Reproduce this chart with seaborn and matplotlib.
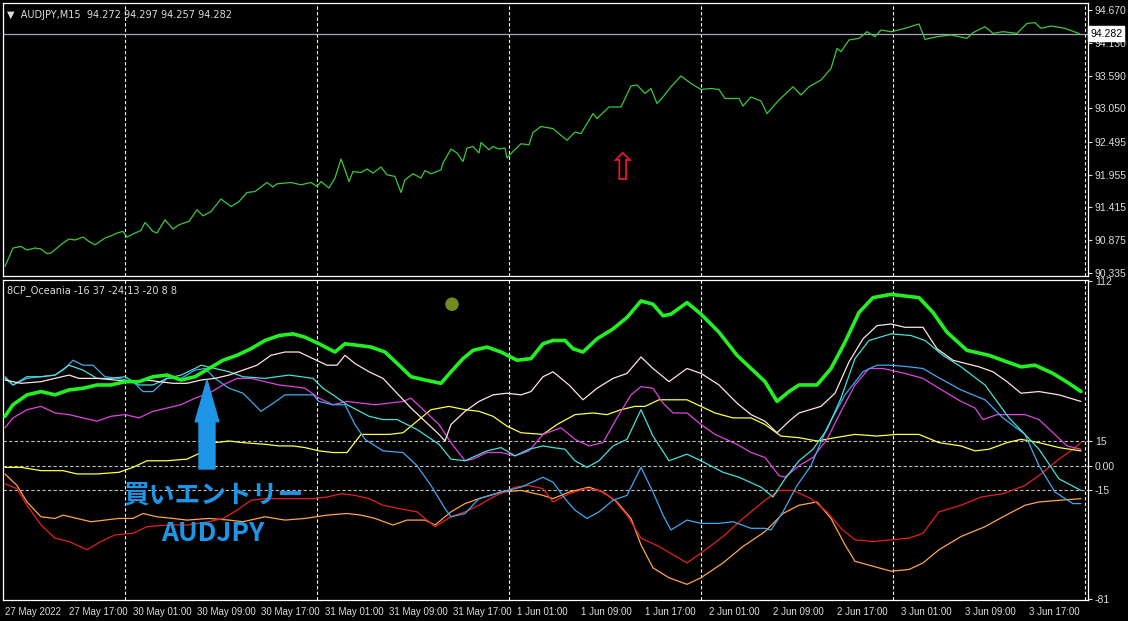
import matplotlib
matplotlib.use('Agg')
import matplotlib.pyplot as plt
import seaborn as sns

sns.set_style('dark', {'axes.facecolor': 'black', 'figure.facecolor': 'black'})
plt.rcParams['font.family'] = ['DejaVu Sans', 'Noto Sans CJK JP']

# --- AUDJPY M15 close (bar index, price) ---
price_bar = [0, 4, 8, 11, 15, 18, 21, 23, 26, 29, 32, 35, 39, 42, 45, 50, 53, 56, 59, 61,
             65, 68, 70, 74, 76, 80, 84, 87, 92, 96, 99, 103, 108, 113, 117, 121, 125, 131, 134, 136,
             143, 148, 153, 156, 158, 162, 165, 168, 170, 172, 174, 178, 181, 184, 188, 191, 195, 198, 200, 204,
             208, 210, 213, 218, 219, 223, 226, 229, 231, 234, 237, 238, 242, 244, 247, 250, 251, 254, 258, 262,
             264, 268, 274, 281, 285, 288, 294, 296, 302, 308, 313, 316, 320, 323, 326, 329, 333, 338, 343, 348,
             353, 357, 360, 367, 369, 373, 378, 381, 387, 394, 398, 402, 408, 413, 416, 418, 422, 427, 431, 435,
             438, 443, 450, 457, 460, 466, 473, 481, 484, 490, 494, 499, 506, 511, 515, 518, 523, 530, 537]
price = [90.444, 90.747, 90.773, 90.714, 90.747, 90.731, 90.653, 90.665, 90.747, 90.829,
         90.895, 90.879, 90.928, 90.856, 90.800, 90.912, 90.948, 90.994, 91.021, 90.928,
         90.994, 91.037, 91.169, 91.021, 90.994, 91.212, 91.060, 91.130, 91.186, 91.377,
         91.278, 91.349, 91.555, 91.431, 91.513, 91.662, 91.678, 91.827, 91.753, 91.805,
         91.827, 91.789, 91.827, 91.761, 91.843, 91.736, 91.901, 92.214, 92.036, 91.843,
         92.008, 91.991, 92.049, 91.983, 92.082, 91.954, 91.926, 91.662, 91.871, 91.970,
         91.901, 92.024, 91.970, 92.036, 92.148, 92.379, 92.313, 92.173, 92.395, 92.420,
         92.313, 92.486, 92.366, 92.420, 92.379, 92.395, 92.231, 92.338, 92.465, 92.448,
         92.651, 92.750, 92.715, 92.522, 92.659, 92.633, 92.962, 92.880, 93.071, 93.071,
         93.417, 93.434, 93.294, 93.376, 93.129, 93.236, 93.404, 93.582, 93.459, 93.360,
         93.376, 93.360, 93.211, 93.211, 93.088, 93.236, 93.170, 92.962, 93.187, 93.404,
         93.269, 93.404, 93.516, 93.706, 94.037, 93.981, 94.176, 94.202, 94.312, 94.230,
         94.340, 94.312, 94.367, 94.439, 94.185, 94.230, 94.258, 94.202, 94.296, 94.395,
         94.284, 94.312, 94.284, 94.449, 94.461, 94.367, 94.406, 94.367, 94.282]
last_price = 94.282

# --- 8CP_Oceania oscillator lines (bar index, value) ---
green_bar = [0, 4, 11, 18, 25, 32, 39, 46, 53, 60, 67, 74, 81, 88, 95, 102, 109, 116, 123, 130,
             137, 144, 150, 157, 165, 170, 177, 183, 190, 197, 203, 210, 218, 223, 229, 234, 241, 248, 256, 263,
             269, 274, 280, 284, 289, 296, 304, 311, 318, 324, 329, 333, 341, 348, 357, 366, 373, 380, 386, 392,
             397, 406, 413, 420, 427, 434, 443, 450, 457, 464, 471, 481, 492, 501, 508, 515, 524, 532, 538]
green = [30, 37, 43, 45, 43, 46, 47, 49, 49, 51, 51, 54, 55, 52, 54, 59, 64, 67, 71, 76,
         79, 80, 78, 74, 69, 74, 73, 72, 69, 61, 54, 52, 50, 57, 65, 70, 72, 69, 64, 65,
         74, 76, 76, 71, 69, 77, 83, 90, 100, 98, 91, 92, 99, 92, 81, 67, 59, 51, 39, 45,
         49, 49, 59, 75, 93, 102, 104, 103, 102, 93, 81, 70, 67, 63, 60, 61, 56, 50, 45]

white_bar = [0, 8, 18, 25, 32, 37, 46, 55, 64, 71, 77, 84, 91, 98, 105, 112, 119, 126, 133, 140,
             147, 154, 161, 166, 170, 175, 182, 189, 196, 203, 210, 217, 220, 223, 230, 237, 244, 251, 258, 263,
             269, 274, 282, 289, 296, 304, 311, 318, 324, 332, 341, 348, 357, 366, 373, 380, 386, 392, 397, 408,
             415, 422, 429, 436, 443, 450, 459, 466, 474, 487, 494, 501, 508, 517, 527, 538]
white = [52, 50, 51, 53, 55, 53, 53, 52, 51, 52, 51, 50, 50, 52, 53, 55, 58, 61, 67, 69,
         69, 65, 61, 61, 67, 62, 57, 53, 44, 35, 27, 19, 15, 25, 33, 39, 43, 44, 43, 45,
         54, 57, 49, 40, 47, 53, 56, 66, 59, 51, 59, 56, 49, 38, 31, 27, 20, 27, 32, 36,
         44, 63, 77, 85, 86, 84, 84, 71, 64, 60, 57, 51, 44, 45, 43, 39]

turq_bar = [0, 4, 11, 18, 25, 32, 39, 46, 53, 60, 67, 74, 81, 88, 95, 98, 105, 112, 119, 130,
            142, 154, 159, 164, 171, 182, 189, 196, 206, 217, 223, 230, 241, 248, 255, 262, 269, 274, 280, 285,
            291, 297, 304, 311, 318, 324, 332, 341, 348, 359, 367, 378, 384, 390, 397, 404, 411, 418, 425, 432,
            443, 453, 460, 469, 478, 490, 496, 502, 510, 517, 527, 538]
turq = [54, 49, 54, 54, 55, 61, 58, 53, 53, 54, 49, 49, 53, 55, 59, 61, 59, 57, 54, 53,
        55, 53, 47, 43, 37, 30, 28, 28, 22, 13, 4, 3, 9, 11, 6, 10, 12, 11, 10, 3,
        -1, 3, 12, 16, 34, 18, 3, 7, 3, -4, -7, -13, -19, -8, 3, 10, 22, 41, 65, 76,
        80, 79, 76, 67, 60, 49, 39, 29, 19, 10, -8, -15]

sky_bar = [0, 4, 11, 18, 25, 30, 34, 39, 44, 50, 57, 64, 69, 74, 81, 88, 95, 100, 105, 112,
           119, 124, 128, 133, 140, 149, 154, 157, 164, 170, 175, 180, 189, 199, 206, 213, 220, 223, 230, 237,
           248, 258, 269, 274, 280, 285, 291, 297, 304, 311, 318, 324, 329, 333, 341, 348, 357, 364, 373, 380,
           383, 389, 396, 403, 411, 420, 429, 436, 443, 452, 459, 466, 478, 490, 499, 510, 517, 525, 534, 538]
sky = [53, 49, 53, 54, 55, 59, 64, 61, 61, 54, 53, 51, 45, 45, 53, 53, 58, 59, 53, 47,
       44, 38, 33, 37, 43, 43, 43, 39, 37, 37, 25, 16, 9, 8, 0, -12, -26, -31, -29, -20,
       -16, -13, -7, -10, -20, -27, -32, -28, -21, -18, -1, -16, -30, -39, -33, -35, -35, -34, -38, -38,
       -39, -28, -12, 0, 23, 43, 57, 61, 61, 60, 59, 54, 46, 40, 29, 19, 0, -16, -23, -23]

mag_bar = [0, 4, 11, 18, 25, 32, 39, 46, 53, 60, 67, 74, 81, 88, 95, 102, 109, 116, 123, 130,
           137, 144, 150, 157, 164, 171, 178, 185, 192, 199, 203, 210, 217, 223, 230, 234, 241, 248, 255, 262,
           269, 278, 285, 292, 299, 306, 313, 318, 324, 329, 334, 341, 348, 355, 366, 373, 380, 387, 390, 397,
           404, 411, 418, 425, 432, 439, 450, 459, 467, 478, 485, 489, 496, 504, 510, 517, 524, 531, 538]
mag = [23, 29, 34, 36, 32, 31, 29, 27, 30, 31, 29, 33, 35, 37, 41, 44, 49, 53, 53, 51,
       49, 48, 47, 41, 37, 39, 38, 37, 38, 39, 41, 33, 25, 14, 3, 4, 8, 8, 6, 9,
       19, 23, 16, 12, 14, 29, 43, 48, 47, 38, 32, 32, 25, 19, 13, 8, 5, -6, -7, 0,
       5, 16, 33, 49, 59, 59, 56, 53, 47, 39, 35, 28, 31, 31, 31, 28, 20, 12, 10]

yel_bar = [0, 8, 18, 29, 36, 46, 57, 64, 71, 81, 91, 98, 105, 112, 119, 130, 137, 144, 150, 157,
           164, 171, 178, 185, 192, 199, 206, 213, 222, 230, 237, 244, 251, 258, 269, 276, 285, 294, 301, 308,
           315, 320, 327, 334, 341, 348, 355, 364, 373, 380, 388, 397, 406, 415, 425, 436, 446, 457, 467, 478,
           485, 492, 501, 508, 517, 527, 538]
yel = [-1, -1, -3, -3, -5, -5, -4, -1, 3, 3, 4, 8, 14, 15, 14, 13, 12, 12, 11, 9,
       8, 8, 19, 19, 19, 20, 27, 34, 36, 34, 33, 30, 24, 20, 19, 25, 31, 32, 31, 34,
       36, 36, 40, 40, 40, 36, 32, 29, 29, 25, 18, 17, 15, 17, 19, 18, 19, 19, 14, 12,
       9, 10, 14, 16, 14, 11, 9]

red_bar = [0, 6, 11, 18, 25, 32, 41, 48, 55, 64, 71, 81, 91, 102, 109, 116, 123, 130, 137, 147,
           154, 161, 168, 175, 182, 189, 197, 206, 215, 223, 230, 237, 244, 255, 262, 269, 274, 282, 290, 297,
           304, 311, 318, 327, 334, 341, 348, 359, 369, 380, 387, 394, 403, 411, 418, 425, 434, 443, 452, 459,
           467, 478, 488, 499, 510, 518, 527, 534, 538]
red = [-11, -14, -24, -36, -44, -46, -51, -46, -42, -41, -37, -36, -36, -34, -32, -27, -21, -20, -20, -20,
       -20, -19, -17, -18, -20, -24, -26, -28, -37, -31, -28, -24, -19, -13, -12, -14, -22, -17, -14, -15,
       -20, -30, -44, -49, -54, -59, -53, -43, -32, -21, -15, -15, -20, -28, -38, -45, -46, -45, -44, -41,
       -28, -24, -19, -17, -12, -5, 4, 10, 14]

org_bar = [0, 6, 11, 18, 25, 29, 36, 43, 50, 57, 64, 69, 76, 84, 91, 102, 112, 119, 130, 140,
           150, 161, 171, 178, 185, 194, 201, 210, 215, 223, 230, 237, 248, 258, 269, 274, 282, 292, 299, 306,
           313, 318, 324, 332, 341, 348, 359, 369, 380, 389, 397, 406, 413, 420, 425, 434, 443, 452, 459, 467,
           478, 490, 499, 510, 517, 527, 538]
org = [-5, -12, -22, -31, -32, -30, -32, -34, -33, -32, -32, -29, -31, -32, -33, -32, -33, -34, -31, -33,
       -32, -30, -29, -30, -32, -36, -33, -33, -36, -28, -23, -20, -16, -15, -18, -20, -16, -13, -16, -22,
       -32, -48, -62, -68, -72, -68, -59, -49, -40, -29, -24, -22, -32, -48, -58, -61, -64, -63, -59, -51,
       -43, -37, -31, -24, -22, -21, -20]

osc_levels = [15, 0, -15]

# --- axes labels ---
time_labels = ['27 May 2022', '27 May 17:00', '30 May 01:00', '30 May 09:00', '30 May 17:00',
               '31 May 01:00', '31 May 09:00', '31 May 17:00', '1 Jun 01:00', '1 Jun 09:00',
               '1 Jun 17:00', '2 Jun 01:00', '2 Jun 09:00', '2 Jun 17:00', '3 Jun 01:00',
               '3 Jun 09:00', '3 Jun 17:00']
time_ticks = [32 * i for i in range(len(time_labels))]
day_starts = [60, 156, 252, 348, 444, 540]
price_ticks = [94.670, 94.130, 93.590, 93.050, 92.495, 91.955, 91.415, 90.875, 90.335]
osc_ticks = [112, 15, 0, -15, -81]
osc_tick_labels = ['112', '15', '0.00', '-15', '-81']

# annotations
entry_bar = 101
entry_tip, entry_base = 52, -2
signal_bar, signal_price = 308.5, 92.03
dot_bar, dot_val = [223.5], [98]

W, H = 1128, 621
fig = plt.figure(figsize=(W / 100, H / 100), dpi=100)
fig.patch.set_facecolor('black')
ax1 = fig.add_axes([3 / W, (H - 276) / H, 1085 / W, 273 / H])
ax2 = fig.add_axes([3 / W, (H - 600) / H, 1085 / W, 320 / H])

txt = '#dcdcdc'
lab_font = 'Liberation Sans'
for ax in (ax1, ax2):
    ax.set_facecolor('black')
    ax.set_xlim(-1, 541.5)
    for s in ax.spines.values():
        s.set_color('white')
        s.set_linewidth(0.9)
    for d in day_starts:
        ax.axvline(d, color='white', lw=0.8, ls=(0, (3, 2)), zorder=1)
    ax.yaxis.tick_right()
    ax.tick_params(axis='y', colors=txt, labelsize=7.5, length=3, width=0.8, pad=2, direction='out')

# top panel: price
sns.lineplot(x=price_bar, y=price, ax=ax1, color='#3cc83c', lw=0.9, estimator=None, zorder=3)
ax1.axhline(last_price, color='#a8a8b8', lw=0.9, zorder=2)
ax1.set_ylim(90.286, 94.785)
ax1.set_yticks(price_ticks)
ax1.set_yticklabels([f'{p:.3f}' for p in price_ticks], family=lab_font)
ax1.set_xticks([])
ax1.set_xlabel('')
ax1.set_ylabel('')
ax1.text(1.002, last_price, f'{last_price:.3f}', transform=ax1.get_yaxis_transform(),
         ha='left', va='center', fontsize=7.5, family=lab_font, color='black', zorder=10, clip_on=False,
         bbox=dict(boxstyle='square,pad=0.2', fc='white', ec='white'))
ax1.text(0.004, 0.975, '▼  AUDJPY,M15  94.272 94.297 94.257 94.282', transform=ax1.transAxes,
         ha='left', va='top', fontsize=7, color=txt)
ax1.text(signal_bar, signal_price, '⇧', color='#e4142c', fontsize=27, ha='center', va='center')

# bottom panel: oscillator
series = [(org_bar, org, '#ffa548', 0.9), (red_bar, red, '#e42020', 0.9),
          (yel_bar, yel, '#ffff44', 0.9), (mag_bar, mag, '#e044e0', 0.9),
          (sky_bar, sky, '#3fa9f0', 0.9), (turq_bar, turq, '#48e0d8', 0.9),
          (white_bar, white, '#ffe2e2', 0.9), (green_bar, green, '#22f022', 2.6)]
for xs, ys, c, lw in series:
    sns.lineplot(x=xs, y=ys, ax=ax2, color=c, lw=lw, estimator=None, zorder=3)
for lv in osc_levels:
    ax2.axhline(lv, color='#bdbdbd', lw=0.8, ls=(0, (3, 2)), zorder=1)
sns.scatterplot(x=dot_bar, y=dot_val, ax=ax2, color='#6f8c1c', s=95, edgecolor='none', zorder=4)
ax2.set_ylim(-81.5, 112.7)
ax2.set_yticks(osc_ticks)
ax2.set_yticklabels(osc_tick_labels, family=lab_font)
ax2.set_xticks(time_ticks)
ax2.set_xticklabels(time_labels, ha='left', family=lab_font)
ax2.tick_params(axis='x', colors=txt, labelsize=7, length=3, width=0.8, pad=2)
ax2.set_xlabel('')
ax2.set_ylabel('')
ax2.text(0.004, 0.985, '8CP_Oceania -16 37 -24 13 -20 8 8', transform=ax2.transAxes,
         ha='left', va='top', fontsize=7, color=txt)

blue = '#1e96e8'
ax2.annotate('', xy=(entry_bar, entry_tip), xytext=(entry_bar, entry_base),
             arrowprops=dict(arrowstyle='simple,head_length=30,head_width=17,tail_width=11.5',
                             mutation_scale=1, color=blue, shrinkA=0, shrinkB=0), zorder=6)
ax2.text(entry_bar + 3, -18, '買いエントリー', color=blue, fontsize=18.5, fontweight='bold',
         family=['Noto Sans CJK JP', 'DejaVu Sans'], ha='center', va='center', zorder=6)
ax2.text(entry_bar + 3, -41, 'AUDJPY', color=blue, fontsize=19, fontweight='bold',
         family=['Noto Sans CJK JP', 'DejaVu Sans'], ha='center', va='center', zorder=6)

fig.savefig('out.png', dpi=100, facecolor='black')
